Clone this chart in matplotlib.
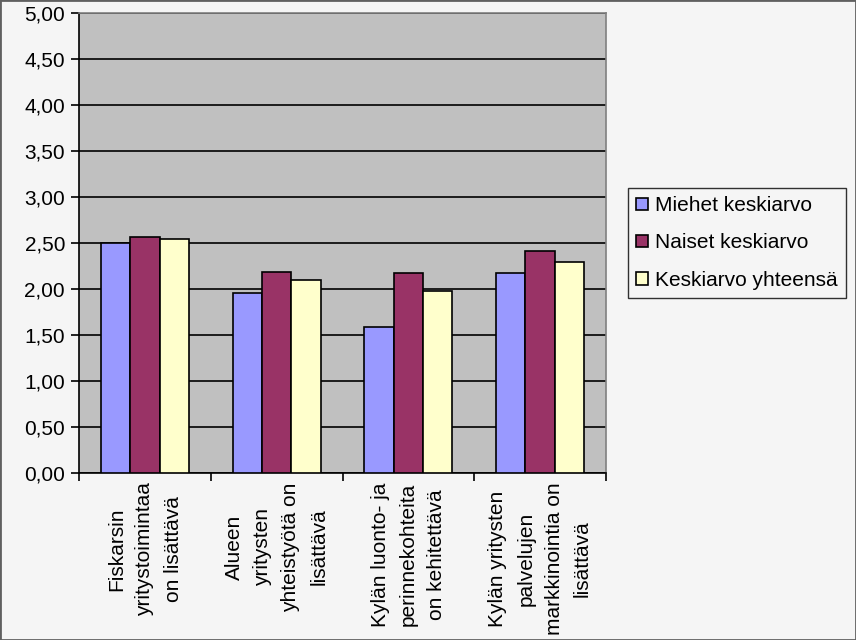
import numpy as np
import matplotlib.pyplot as plt
from matplotlib.patches import Rectangle

# Data
categories = [
    "Fiskarsin\nyritystoimintaa\non lisättävä",
    "Alueen\nyritysten\nyhteistyötä on\nlisättävä",
    "Kylän luonto- ja\nperinnekohteita\non kehitettävä",
    "Kylän yritysten\npalvelujen\nmarkkinointia on\nlisättävä",
]
series_names = ["Miehet keskiarvo", "Naiset keskiarvo", "Keskiarvo yhteensä"]
miehet = [2.50, 1.96, 1.59, 2.17]
naiset = [2.56, 2.18, 2.17, 2.41]
yhteensa = [2.54, 2.10, 1.98, 2.29]
y_ticks = [0, 0.5, 1.0, 1.5, 2.0, 2.5, 3.0, 3.5, 4.0, 4.5, 5.0]

colors = ["#9999ff", "#993366", "#ffffcc"]
fs = 15

plt.rcParams["font.family"] = ["Liberation Sans", "DejaVu Sans"]

# Setup
fig = plt.figure(figsize=(8.56, 6.4), dpi=100, facecolor="#f5f5f5")
ax = fig.add_axes([79 / 856, 1 - 473 / 640, (606 - 79) / 856, (473 - 13) / 640])
ax.set_facecolor("#c0c0c0")

# Bars
x = np.arange(len(categories))
width = 1 / 4.5
for i, (vals, name) in enumerate(zip([miehet, naiset, yhteensa], series_names)):
    ax.bar(x + (i - 1) * width, vals, width, color=colors[i], edgecolor="black",
           linewidth=1.2, label=name, zorder=3)

# Axes
ax.set_xlim(-0.5, len(categories) - 0.5)
ax.set_ylim(0, 5)
ax.set_yticks(y_ticks)
ax.set_yticklabels([f"{v:.2f}".replace(".", ",") for v in y_ticks], fontsize=fs)
ax.yaxis.grid(True, color="black", linewidth=1.2, zorder=1)
ax.set_axisbelow(True)

ax.set_xticks(np.arange(len(categories) + 1) - 0.5)
ax.set_xticklabels([])
ax.tick_params(axis="both", direction="out", length=6, width=1.2, color="black")
ax.tick_params(axis="y", pad=4)

for s in ["left", "bottom"]:
    ax.spines[s].set_color("black")
    ax.spines[s].set_linewidth(1.2)
for s in ["top", "right"]:
    ax.spines[s].set_color("#808080")
    ax.spines[s].set_linewidth(1.2)

# Category labels
for xi, label in zip(x, categories):
    ax.text(xi, -0.02, label, rotation=90, ha="center", va="top",
            multialignment="center", fontsize=fs, linespacing=1.62,
            transform=ax.get_xaxis_transform())

# Legend
leg = ax.legend(loc="center left", bbox_to_anchor=(628 / 856, 1 - 243 / 640),
                bbox_transform=fig.transFigure, fontsize=fs, frameon=True,
                fancybox=False, edgecolor="black", facecolor="#f5f5f5",
                handlelength=0.55, handleheight=0.55, handletextpad=0.35,
                labelspacing=0.88, borderpad=0.4, borderaxespad=0)
leg.get_frame().set_linewidth(1.0)

# Figure border
fig.patches.append(Rectangle((0, 0), 1, 1, transform=fig.transFigure, fill=False,
                             edgecolor="#606060", linewidth=2))

fig.savefig("out.png", dpi=100, facecolor=fig.get_facecolor())
